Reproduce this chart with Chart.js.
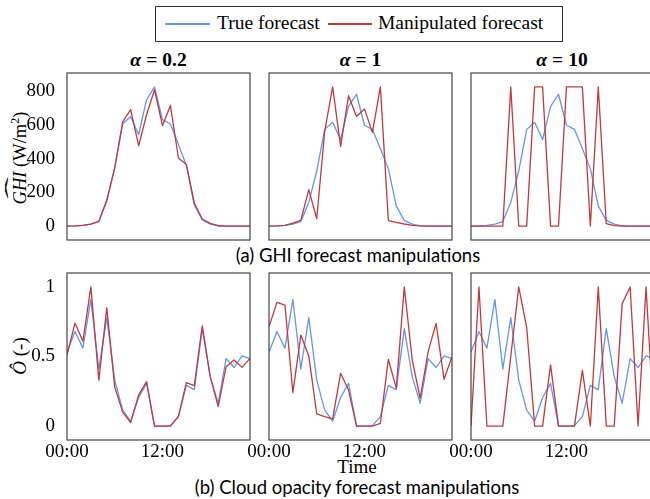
<!DOCTYPE html>
<html><head><meta charset="utf-8">
<script src="https://cdn.jsdelivr.net/npm/chart.js@4.4.1/dist/chart.umd.min.js"></script>
<style>
html,body{margin:0;padding:0;background:#fff;width:650px;height:499px;overflow:hidden;position:relative;}
canvas{position:absolute;}
.t{position:absolute;white-space:nowrap;color:#000;font-family:'Liberation Serif',serif;}
.c{position:absolute;width:400px;text-align:center;white-space:nowrap;color:#000;}
.eq{display:inline-block;margin:0 5px;}
</style></head><body>

<!-- legend -->
<div style="position:absolute;left:155px;top:6px;width:408px;height:36px;box-sizing:border-box;border:1px solid #333;"></div>
<div style="position:absolute;left:165px;top:22.5px;width:45px;height:2px;background:#6495ED;"></div>
<div class="t" style="left:217px;top:10px;font-size:19.5px;line-height:26px;">True forecast</div>
<div style="position:absolute;left:328px;top:22.5px;width:44px;height:2px;background:#C0393D;"></div>
<div class="t" style="left:378px;top:10px;font-size:19.5px;line-height:26px;">Manipulated forecast</div>

<!-- panel titles -->
<div class="c" style="left:-41.5px;top:48px;font:bold 19.5px 'Liberation Serif',serif;line-height:24px;"><i>α</i><span class="eq">=</span>0.2</div>
<div class="c" style="left:160.5px;top:48px;font:bold 19.5px 'Liberation Serif',serif;line-height:24px;"><i>α</i><span class="eq">=</span>1</div>
<div class="c" style="left:362px;top:48px;font:bold 19.5px 'Liberation Serif',serif;line-height:24px;"><i>α</i><span class="eq">=</span>10</div>

<!-- y labels -->
<div class="t" style="left:20px;top:158px;transform:translate(-50%,-50%) rotate(-90deg);font-size:18.5px;line-height:20px;"><span style="position:relative;display:inline-block;font-style:italic;">GHI<span style="position:absolute;left:0;right:0;top:-8px;text-align:center;font-style:normal;transform:scaleX(3.6);">ˆ</span></span> (W/m<sup style="font-size:12px;line-height:0;">2</sup>)</div>
<div class="t" style="left:20px;top:356px;transform:translate(-50%,-50%) rotate(-90deg);font-size:19px;line-height:20px;"><i>Ô</i> (-)</div>

<!-- captions -->
<div class="c" style="left:158px;top:243px;font-family:Lato,sans-serif;font-size:18.5px;line-height:24px;">(a) GHI forecast manipulations</div>
<div class="c t" style="left:157px;top:455px;font-size:19px;line-height:24px;">Time</div>
<div class="c" style="left:157px;top:475px;font-family:Lato,sans-serif;font-size:18.5px;line-height:24px;">(b) Cloud opacity forecast manipulations</div>

<script>
// ---- data ----
const hours = [0,1,2,3,4,5,6,7,8,9,10,11,12,13,14,15,16,17,18,19,20,21,22,23];
const tickHours = [0, 12];
const tickLabels = ['00:00', '12:00'];
const alphas = ['0.2', '1', '10'];

const ghiTrue    = [0,1,4,12,28,148,345,606,650,542,750,826,632,606,485,360,125,36,12,2,0,0,0,0];
const ghiAlpha02 = [0,1,4,12,28,155,345,618,691,477,661,809,596,716,404,366,137,42,16,2,0,0,0,0];
const ghiAlpha1  = [0,1,4,19,36,228,46,593,872,499,817,687,733,587,872,34,23,13,5,1,0,0,0,0];
const ghiAlpha10 = [0,0,0,0,0,872,0,0,872,872,0,0,872,872,872,0,872,15,3,0,0,0,0,0];
const ghiTicks = [0,200,400,600,800];

const opTrue    = [0.53,0.68,0.56,0.91,0.41,0.78,0.33,0.115,0.035,0.205,0.307,0,0,0.003,0.068,0.293,0.262,0.70,0.355,0.164,0.485,0.421,0.505,0.485];
const opAlpha02 = [0.51,0.74,0.61,1.0,0.33,0.85,0.28,0.10,0.025,0.223,0.319,0,0,0,0.068,0.312,0.29,0.72,0.355,0.14,0.427,0.475,0.422,0.487];
const opAlpha1  = [0.714,0.889,0.87,0.24,0.654,0.504,0.087,0.068,0.051,0.379,0.259,0,0,0,0.02,0.48,0.271,1.0,0.475,0.2,0.535,0.738,0.336,0.499];
const opAlpha10 = [0,1.0,0,0,0,0.5,1.0,0.71,0,0,0.44,0,0,0,0.4,0,1.0,0,0,0.88,1.0,0,1.0,0];
const opTicks = [0,0.5,1];

// ---- style ----
const BLUE = '#6495ED', RED = '#C0393D';
const SERIF = "'Liberation Serif', serif";
const COL_LEFT = [67, 269, 470.5], ROW_TOP = [73, 273], PW = 183, PH = 167;

function autoRange(arrs){
  const all = [].concat(...arrs);
  const lo = Math.min(...all), hi = Math.max(...all), s = hi - lo;
  return {min: lo - 0.1*s, max: hi + 0.1*s};
}

const boxPlugin = {id:'box', afterDraw(chart){
  const {ctx, chartArea:a} = chart;
  ctx.save(); ctx.strokeStyle = '#444'; ctx.lineWidth = 1.2;
  ctx.strokeRect(a.left, a.top, a.right - a.left, a.bottom - a.top);
  ctx.restore();
}};

function zeroPad(s){ s.paddingTop = 0; s.paddingBottom = 0; s.paddingLeft = 0; s.paddingRight = 0; }

const panels = [
  {r:0,c:0,t:ghiTrue,m:ghiAlpha02,ticks:ghiTicks},
  {r:0,c:1,t:ghiTrue,m:ghiAlpha1,ticks:ghiTicks},
  {r:0,c:2,t:ghiTrue,m:ghiAlpha10,ticks:ghiTicks},
  {r:1,c:0,t:opTrue,m:opAlpha02,ticks:opTicks},
  {r:1,c:1,t:opTrue,m:opAlpha1,ticks:opTicks},
  {r:1,c:2,t:opTrue,m:opAlpha10,ticks:opTicks}
];

panels.forEach(p => {
  const showY = p.c === 0, showX = p.r === 1;
  const padL = showY ? 67 : 30, padR = 4, padT = 4, padB = showX ? 30 : 4;
  const w = padL + PW + padR, h = padT + PH + padB;
  const cv = document.createElement('canvas');
  cv.width = w; cv.height = h;
  cv.style.width = w + 'px'; cv.style.height = h + 'px';
  cv.style.left = (COL_LEFT[p.c] - padL) + 'px';
  cv.style.top = (ROW_TOP[p.r] - padT) + 'px';
  document.body.appendChild(cv);
  const rng = autoRange([p.t, p.m]);
  new Chart(cv, {
    type: 'line',
    data: {datasets: [
      {label:'Manipulated forecast', data: hours.map((x,i)=>({x:x, y:p.m[i]})), borderColor: RED, borderWidth: 1.3, pointRadius: 0, tension: 0, order: 0, borderJoinStyle:'round'},
      {label:'True forecast', data: hours.map((x,i)=>({x:x, y:p.t[i]})), borderColor: BLUE, borderWidth: 1.3, pointRadius: 0, tension: 0, order: 1, borderJoinStyle:'round'}
    ]},
    options: {
      responsive: false, animation: false, devicePixelRatio: 1,
      layout: {padding: {left: showY ? 0 : padL, right: padR, top: padT, bottom: showX ? 0 : padB}},
      plugins: {legend: {display: false}, tooltip: {enabled: false}},
      scales: {
        x: {type: 'linear', min: 0, max: 23, display: showX,
            grid: {display: false}, border: {display: false},
            afterBuildTicks: s => { s.ticks = tickHours.map(v => ({value: v})); },
            ticks: {callback: v => { const k = tickHours.indexOf(v); return k >= 0 ? tickLabels[k] : ''; },
                    font: {family: SERIF, size: 19}, color: '#000', padding: -7, maxRotation: 0, autoSkip: false},
            afterFit: s => { if (showX) s.height = padB; else s.height = 0; zeroPad(s); }},
        y: {type: 'linear', min: rng.min, max: rng.max, display: showY,
            grid: {display: false}, border: {display: false},
            afterBuildTicks: s => { s.ticks = p.ticks.map(v => ({value: v})); },
            ticks: {callback: v => String(v), font: {family: SERIF, size: 19}, color: '#000', padding: 4},
            afterFit: s => { if (showY) s.width = padL; else s.width = 0; zeroPad(s); }}
      }
    },
    plugins: [boxPlugin]
  });
});
</script>
</body></html>
